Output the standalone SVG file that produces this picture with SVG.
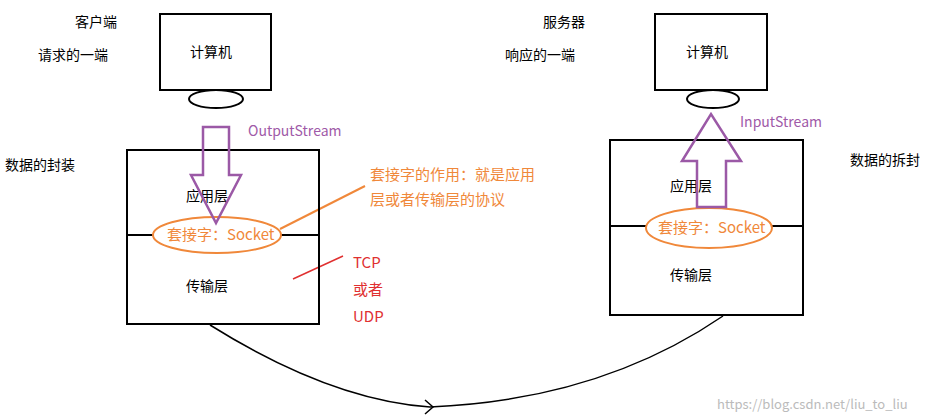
<svg xmlns="http://www.w3.org/2000/svg" width="935" height="418" viewBox="0 0 935 418">
<style>
text{font-family:"Noto Sans CJK SC","Noto Sans",sans-serif;font-size:14px;fill:#000}
.box{fill:none;stroke:#000;stroke-width:2}
.ar{fill:none;stroke:#9b59a6;stroke-width:2.5}
.pu{fill:#a05aa8}
.or{fill:#f0883a;font-size:15px}
.os{fill:#fff;stroke:#f0883a;stroke-width:2}
.rd{fill:#e03030;font-size:15px}
</style>
<rect width="935" height="418" fill="#fff"/>
<g id="connectors">
<path d="M210,325 Q330,400 430,407 Q600,400 723,316" fill="none" stroke="#000" stroke-width="1.5"/>
<path d="M425,400 L433,407 L425,414" fill="none" stroke="#000" stroke-width="1.5"/>
<line x1="280" y1="229" x2="365" y2="186" stroke="#f0883a" stroke-width="2"/>
<line x1="293" y1="279" x2="343" y2="256" stroke="#e03030" stroke-width="1.5"/>
</g>
<g id="client-pc"><rect class="box" x="160" y="14" width="111" height="76"/><text x="190" y="57">计算机</text><ellipse class="box" cx="216" cy="99" rx="27" ry="9"/></g>
<g id="server-pc"><rect class="box" x="655" y="14" width="112" height="76"/><text x="686" y="57">计算机</text><ellipse class="box" cx="713" cy="99" rx="26" ry="9"/></g>
<g id="client-stack"><rect class="box" x="127" y="150" width="192" height="174"/><line class="box" x1="127" y1="235" x2="319" y2="235"/><text x="186" y="201">应用层</text><text x="186" y="291">传输层</text></g>
<g id="server-stack"><rect class="box" x="610" y="140" width="193" height="175"/><line class="box" x1="610" y1="226" x2="803" y2="226"/><text x="670" y="191">应用层</text><text x="670" y="280">传输层</text></g>
<g id="client-socket"><ellipse class="os" cx="217" cy="235" rx="64" ry="18"/><text class="or" x="167" y="240">套接字：Socket</text></g>
<g id="server-socket"><ellipse class="os" cx="709" cy="228" rx="63" ry="20"/><text class="or" x="658" y="233">套接字：Socket</text></g>
<g id="out-arrow"><path class="ar" d="M203,127 L229,127 L229,175 L241,175 L216,223 L191,175 L203,175 Z"/><text class="pu" x="248" y="136">OutputStream</text></g>
<g id="in-arrow"><path class="ar" d="M697,207 L726,207 L726,161 L741,161 L711,114 L682,161 L697,161 Z"/><text class="pu" x="740" y="127">InputStream</text></g>
<g id="labels">
<text x="75" y="27">客户端</text><text x="38" y="60">请求的一端</text><text x="5" y="170">数据的封装</text>
<text x="543" y="27">服务器</text><text x="505" y="60">响应的一端</text><text x="850" y="165">数据的拆封</text>
<text class="or" x="370" y="180">套接字的作用：就是应用</text><text class="or" x="370" y="205">层或者传输层的协议</text>
<text class="rd" x="353" y="268">TCP</text><text class="rd" x="353" y="295">或者</text><text class="rd" x="353" y="322">UDP</text>
<text x="717" y="409" style="fill:#bbb;font-size:13px">https://blog.csdn.net/liu_to_liu</text>
</g>
</svg>
